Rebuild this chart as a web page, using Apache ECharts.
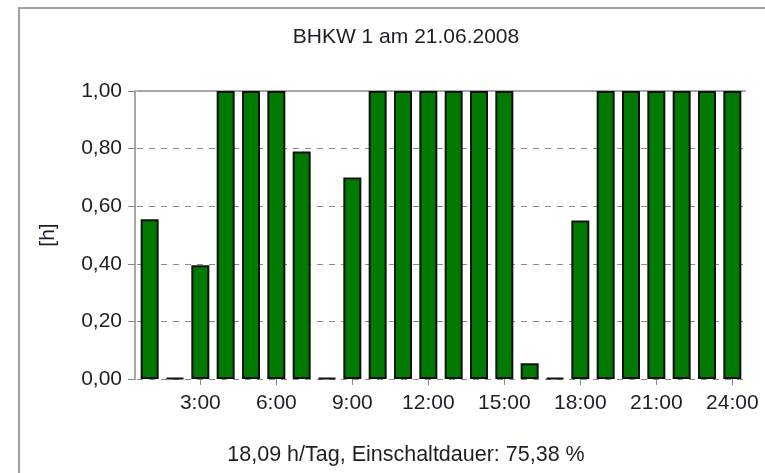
<html>
<head>
<meta charset="utf-8">
<title></title>
<script src="https://cdn.jsdelivr.net/npm/echarts@6/dist/echarts.min.js"></script>
<style>
  html, body { margin:0; padding:0; background:#fff; }
  #frame { position:absolute; left:18px; top:7px; width:760px; height:480px; border:2px solid #a0a0a0; box-sizing:border-box; }
</style>
</head>
<body>
<div id="frame"></div>
<div id="main" style="position:absolute;left:0;top:0;width:765px;height:473px;"></div>
<script>
// hours of the day
var hours = ['1:00','2:00','3:00','4:00','5:00','6:00','7:00','8:00','9:00','10:00','11:00','12:00',
             '13:00','14:00','15:00','16:00','17:00','18:00','19:00','20:00','21:00','22:00','23:00','24:00'];
// running time per hour [h]
var laufzeit = [0.555, 0, 0.395, 1, 1, 1, 0.79, 0, 0.70, 1, 1, 1,
                1, 1, 1, 0.055, 0, 0.55, 1, 1, 1, 1, 1, 1];
var yTicks = [0, 0.2, 0.4, 0.6, 0.8, 1.0];

var titel = 'BHKW 1 am 21.06.2008';
var fussnote = '18,09 h/Tag, Einschaltdauer: 75,38 %';

window.onload = function(){
    var myChart = echarts.init(document.getElementById('main'), null, {renderer:'canvas'});
    var font = '"Liberation Sans", Arial, sans-serif';
    var fs = 21;

    var option = {
        animation: false,
        title: [{
            text: titel,
            left: 401, top: 22, textAlign: 'center',
            textStyle: {fontFamily: font, fontSize: fs, fontWeight: 'normal', color: '#1e1e2a'}
        }, {
            text: fussnote,
            left: 401, top: 439, textAlign: 'center',
            textStyle: {fontFamily: font, fontSize: 21.5, fontWeight: 'normal', color: '#1e1e2a'}
        }],
        grid: {left: 137, top: 91, width: 608, height: 288, containLabel: false},
        xAxis: [{
            type: 'category',
            data: hours,
            axisLine: {show: false},
            axisTick: {
                show: true, alignWithLabel: true, length: 6,
                interval: function(i){ return i % 3 === 2; },
                lineStyle: {color: '#888'}
            },
            axisLabel: {
                interval: function(i){ return i % 3 === 2; },
                margin: 14,
                fontFamily: font, fontSize: fs, color: '#1e1e2a'
            },
            splitLine: {show: false}
        }, {
            type: 'category',
            position: 'top',
            data: hours,
            axisLine: {show: true, lineStyle: {color: '#a8a8a8', width: 2}},
            axisTick: {show: false},
            axisLabel: {show: false}
        }],
        yAxis: {
            type: 'value',
            min: 0, max: 1, interval: 0.2,
            offset: 2,
            name: '[h]',
            nameLocation: 'middle',
            nameRotate: 90,
            nameGap: 76,
            nameTextStyle: {fontFamily: font, fontSize: fs, color: '#1e1e2a'},
            axisLine: {show: true, lineStyle: {color: '#a8a8a8', width: 2}},
            axisTick: {show: true, length: 7, lineStyle: {color: '#888'}},
            axisLabel: {
                margin: 13,
                fontFamily: font, fontSize: fs, color: '#1e1e2a',
                formatter: function(v){ return v.toFixed(2).replace('.', ','); }
            },
            splitLine: {show: true, lineStyle: {color: '#8c8c8c', type: [6, 6], width: 1}}
        },
        series: [{
            type: 'bar',
            data: laufzeit,
            barWidth: 18,
            barMinHeight: 1,
            itemStyle: {color: '#007a00', borderColor: '#111', borderWidth: 2}
        }]
    };

    myChart.setOption(option);
}
</script>
</body>
</html>
